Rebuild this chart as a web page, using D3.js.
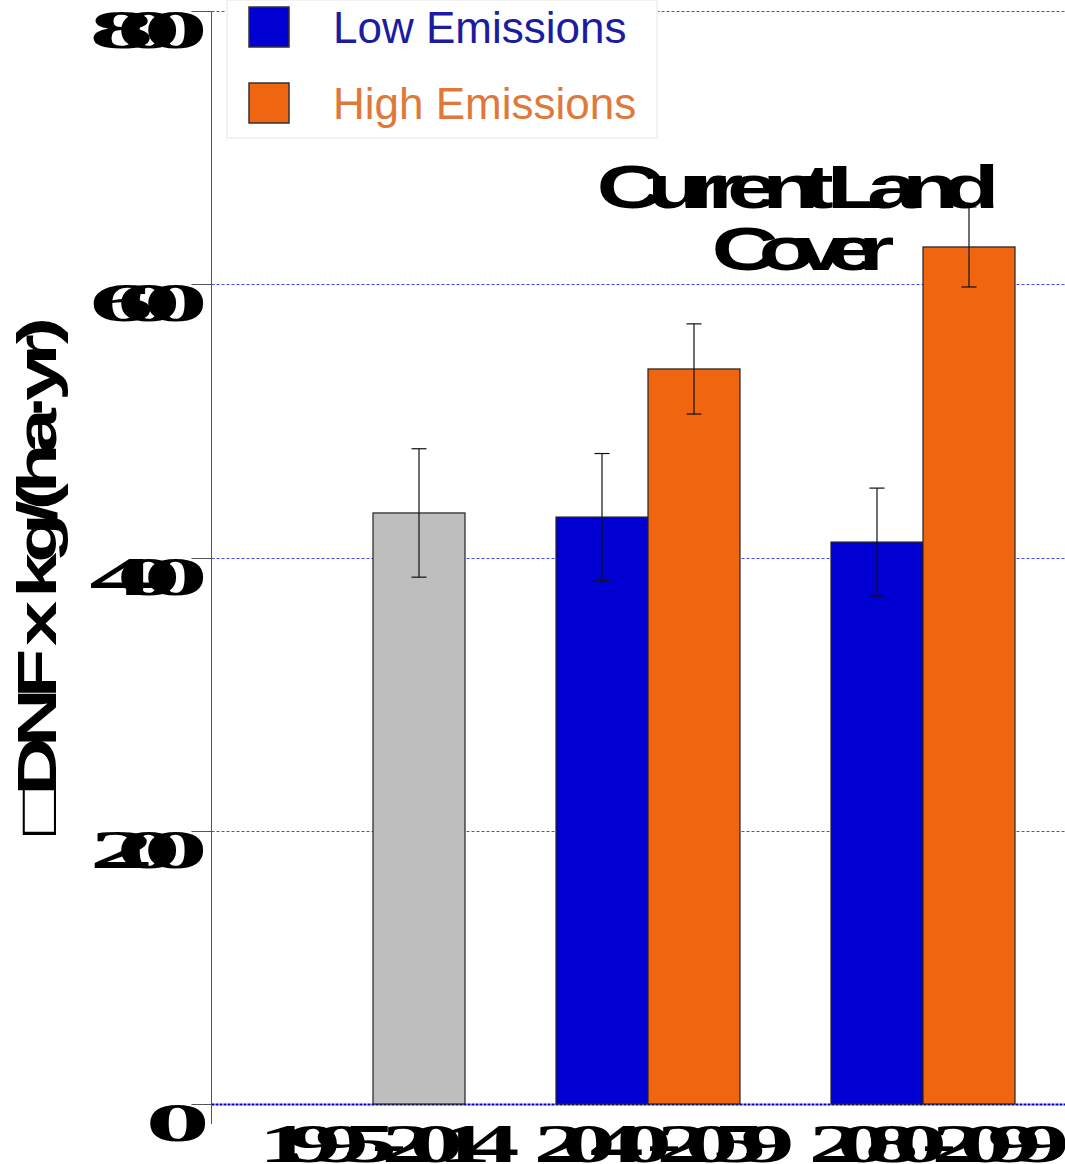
<!DOCTYPE html>
<html>
<head>
<meta charset="UTF-8">
<title>Current Land Cover</title>
<style>
    body { margin: 0; background: #fff; }
    svg { display: block; }
</style>
</head>
<body>
<script src="https://d3js.org/d3.v7.min.js"></script>
<script>

    // chart values
    var periods = ["1995-2014", "2040-2059", "2080-2099"];
    var currentValues = [432.6, null, null];
    var currentErrors = [47, null, null];
    var lowValues = [null, 429.6, 411.3];
    var lowErrors = [null, 46.5, 39.5];
    var highValues = [null, 538, 627.3];
    var highErrors = [null, 33, 29.3];
    var yTicks = [0, 200, 400, 600, 800];
    var legendLabels = ["Low Emissions", "High Emissions"];
    var titleLines = ["Current Land", "Cover"];
    var yLabel = "\u25A1DNF x kg/(ha\u00B7yr)";

    var width = 1065,
        height = 1164;

    var svg = d3.select("body")
        .append("svg")
        .attr("width", width)
        .attr("height", height);

    var x = d3.scaleBand()
        .domain(periods)
        .range([235.5, 1060.5]);

    var slot = d3.scaleBand()
        .domain(["low", "high"])
        .range([0, x.bandwidth()])
        .paddingOuter(0.4946);

    var y = d3.scaleLinear()
        .domain([0, 800])
        .range([1104, 11]);

    var axisX = 211.5;

    // stretch glyphs horizontally while keeping their natural advance
    // (or squeezing them into a given overall extent)
    function stretch(sel, sx, extent) {
        sel.each(function(d, i) {
            var n = this.getNumberOfChars();
            if (n > 1) {
                var W = this.getComputedTextLength();
                var w0 = this.getSubStringLength(0, 1);
                var wn = this.getSubStringLength(n - 1, 1);
                var target = extent ? (typeof extent === "function" ? extent(d, i) : extent)
                                    : W + (sx - 1) * (w0 + wn) / 2;
                this.setAttribute("textLength", target / sx);
                this.setAttribute("lengthAdjust", "spacing");
            }
            var t = this.getAttribute("transform") || "";
            this.setAttribute("transform", t + " scale(" + sx + ",1)");
        });
    }

    // gridlines
    svg.selectAll(".grid")
        .data(yTicks)
        .enter().append("line")
        .attr("class", "grid")
        .attr("x1", axisX)
        .attr("x2", width)
        .attr("y1", function(d) { return Math.round(y(d)) + 0.5; })
        .attr("y2", function(d) { return Math.round(y(d)) + 0.5; })
        .style("stroke", function(d) { return d === 0 ? "#0000c8" : "#4848ff"; })
        .style("stroke-width", function(d) { return d === 0 ? 2 : 1; })
        .style("stroke-dasharray", function(d) { return d === 0 ? "3,1" : "3,2"; });

    // bars
    var rows = [];
    periods.forEach(function(p, i) {
        if (currentValues[i] != null) rows.push({ period: p, key: "high", value: currentValues[i], err: currentErrors[i], color: "#bebebe" });
        if (lowValues[i] != null) rows.push({ period: p, key: "low", value: lowValues[i], err: lowErrors[i], color: "#0000d2" });
        if (highValues[i] != null) rows.push({ period: p, key: "high", value: highValues[i], err: highErrors[i], color: "#f06610" });
    });

    svg.selectAll(".bar")
        .data(rows)
        .enter().append("rect")
        .attr("class", "bar")
        .attr("x", function(d) { return x(d.period) + slot(d.key); })
        .attr("y", function(d) { return y(d.value); })
        .attr("width", slot.bandwidth())
        .attr("height", function(d) { return y(0) - y(d.value); })
        .style("fill", function(d) { return d.color; })
        .style("stroke", "#222")
        .style("stroke-width", 1.2);

    // error bars
    var err = svg.selectAll(".err")
        .data(rows)
        .enter().append("g")
        .attr("class", "err")
        .attr("transform", function(d) { return "translate(" + (x(d.period) + slot(d.key) + slot.bandwidth() / 2) + ",0)"; })
        .style("stroke", "#111")
        .style("stroke-width", 1.2);

    err.append("line")
        .attr("y1", function(d) { return y(d.value + d.err); })
        .attr("y2", function(d) { return y(d.value - d.err); });
    err.append("line")
        .attr("x1", -7.5).attr("x2", 7.5)
        .attr("y1", function(d) { return y(d.value + d.err); })
        .attr("y2", function(d) { return y(d.value + d.err); });
    err.append("line")
        .attr("x1", -7.5).attr("x2", 7.5)
        .attr("y1", function(d) { return y(d.value - d.err); })
        .attr("y2", function(d) { return y(d.value - d.err); });

    // y axis line and ticks
    svg.append("line")
        .attr("x1", axisX).attr("x2", axisX)
        .attr("y1", y(800)).attr("y2", y(0) + 20)
        .style("stroke", "#555");

    svg.selectAll(".tick")
        .data(yTicks)
        .enter().append("line")
        .attr("class", "tick")
        .attr("x1", axisX - 20).attr("x2", axisX)
        .attr("y1", function(d) { return Math.round(y(d)) + 0.5; })
        .attr("y2", function(d) { return Math.round(y(d)) + 0.5; })
        .style("stroke", "#555");

    svg.selectAll(".ylab")
        .data(yTicks)
        .enter().append("text")
        .attr("class", "ylab")
        .attr("transform", function(d) { return "translate(" + (d === 0 ? 210 : 208) + "," + (y(d) + 37) + ")"; })
        .attr("text-anchor", "end")
        .style("font", "bold 54px 'Liberation Serif'")
        .text(function(d) { return d; })
        .call(stretch, 2.4);

    // x labels
    svg.selectAll(".xlab")
        .data(periods)
        .enter().append("text")
        .attr("class", "xlab")
        .attr("transform", function(d) { return "translate(" + (x(d) + x.bandwidth() / 2 + 16) + ",1162)"; })
        .attr("text-anchor", "middle")
        .style("font", "bold 54px 'Liberation Serif'")
        .text(function(d) { return d; })
        .call(stretch, 2.0);

    // y axis title
    svg.append("text")
        .attr("transform", "translate(56,576) rotate(-90)")
        .attr("text-anchor", "middle")
        .style("font", "bold 56px 'Liberation Sans'")
        .text(yLabel)
        .call(stretch, 1.45, 518);

    // chart title
    var titleExtent = [403, 183];
    svg.selectAll(".title")
        .data(titleLines)
        .enter().append("text")
        .attr("class", "title")
        .attr("transform", function(d, i) { return "translate(" + (798 + i * 5) + "," + (208 + i * 62) + ")"; })
        .attr("text-anchor", "middle")
        .style("font", "bold 62px 'Liberation Sans'")
        .text(function(d) { return d; })
        .call(stretch, 1.5, function(d, i) { return titleExtent[i]; });

    // legend
    var legendColors = ["#0000d2", "#f06610"];
    var legendText = ["#1c1ca0", "#e0783a"];

    var legend = svg.append("g");
    legend.append("rect")
        .attr("x", 227).attr("y", 0)
        .attr("width", 430).attr("height", 138)
        .style("fill", "#fff")
        .style("stroke", "#f2f2f2")
        .style("stroke-width", 2);

    var item = legend.selectAll(".item")
        .data(legendLabels)
        .enter().append("g")
        .attr("class", "item")
        .attr("transform", function(d, i) { return "translate(249," + (7 + i * 76) + ")"; });

    item.append("rect")
        .attr("width", 40).attr("height", 40)
        .style("fill", function(d, i) { return legendColors[i]; })
        .style("stroke", "#333")
        .style("stroke-width", 1.5);

    item.append("text")
        .attr("x", 84).attr("y", 36)
        .style("font", "44px 'Liberation Sans'")
        .style("fill", function(d, i) { return legendText[i]; })
        .text(function(d) { return d; });

</script>
</body>
</html>
